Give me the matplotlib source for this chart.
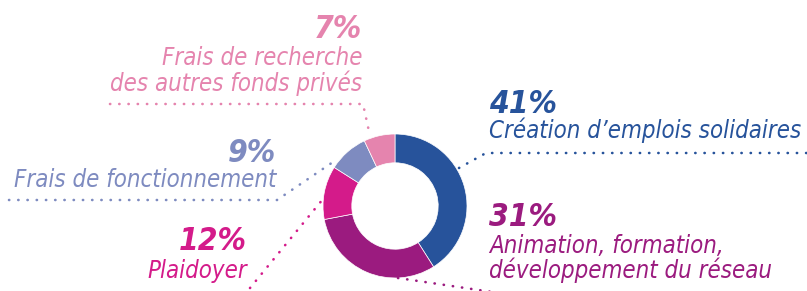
import matplotlib
matplotlib.use("Agg")
import matplotlib.pyplot as plt
from matplotlib import font_manager as fm

categories = ["Création d’emplois solidaires",
              "Animation, formation,\ndéveloppement du réseau",
              "Plaidoyer",
              "Frais de fonctionnement",
              "Frais de recherche\ndes autres fonds privés"]
values = [41, 31, 12, 9, 7]
pct_labels = ["41%", "31%", "12%", "9%", "7%"]
colors = ["#27539B", "#9B1B7F", "#D41B8A", "#7E8BC0", "#E584AE"]

names = {f.fname.split("/")[-1] for f in fm.fontManager.ttflist if "DejaVu" in f.fname}
cond = any("Condensed" in n for n in names)
stretch = "condensed" if cond else "normal"
scale = 1 / 0.9 if cond else 1.0

W, H = 807, 291
fig = plt.figure(figsize=(W / 100, H / 100), dpi=100)
ax = fig.add_axes([0, 0, 1, 1])

cx, cy, R = 395, 206, 72
ax.pie(values, colors=colors, startangle=90, counterclock=False,
       center=(cx, -cy), radius=R, frame=True,
       wedgeprops=dict(width=R * 0.4, edgecolor="white", linewidth=0.5))
ax.set_xlim(0, W)
ax.set_ylim(-H, 0)
ax.set_aspect("equal")
ax.axis("off")

def Y(y):
    return -y

pct_fs = 20.5 * scale
lab_fs = 15.5 * scale
dot = dict(linestyle=(0, (0.1, 3.4)), linewidth=1.9, dash_capstyle="round",
           solid_capstyle="round")
pk = dict(fontsize=pct_fs, fontweight="bold", fontstyle="oblique",
          fontstretch=stretch, family="DejaVu Sans", va="baseline")
lk = dict(fontsize=lab_fs, fontstyle="oblique", fontstretch=stretch,
          family="DejaVu Sans", va="baseline")

def label(x, ys, i, ha):
    ax.text(x, Y(ys[0]), pct_labels[i], color=colors[i], ha=ha, **pk)
    for line, yb in zip(categories[i].split("\n"), ys[1:]):
        ax.text(x, Y(yb), line, color=colors[i], ha=ha, **lk)

# 41% (right, top)
label(489, [113, 138], 0, "left")
ax.plot([459, 486, 807], [Y(168), Y(153), Y(153)], color=colors[0], **dot)

# 31% (right, bottom)
label(489, [226, 253, 278], 1, "left")
ax.plot([398, 492], [Y(278), Y(292)], color=colors[1], **dot)

# 12% (left, bottom)
label(247, [250, 278], 2, "right")
ax.plot([250, 323], [Y(288), Y(199)], color=colors[2], **dot)

# 9% (left, middle)
label(276, [162, 187], 3, "right")
ax.plot([9, 277, 336], [Y(200), Y(200), Y(160)], color=colors[3], **dot)

# 7% (top)
label(362, [38, 65, 91], 4, "right")
ax.plot([110, 363, 370], [Y(104), Y(104), Y(136)], color=colors[4], **dot)

fig.savefig("out.png", dpi=100, facecolor="white")
